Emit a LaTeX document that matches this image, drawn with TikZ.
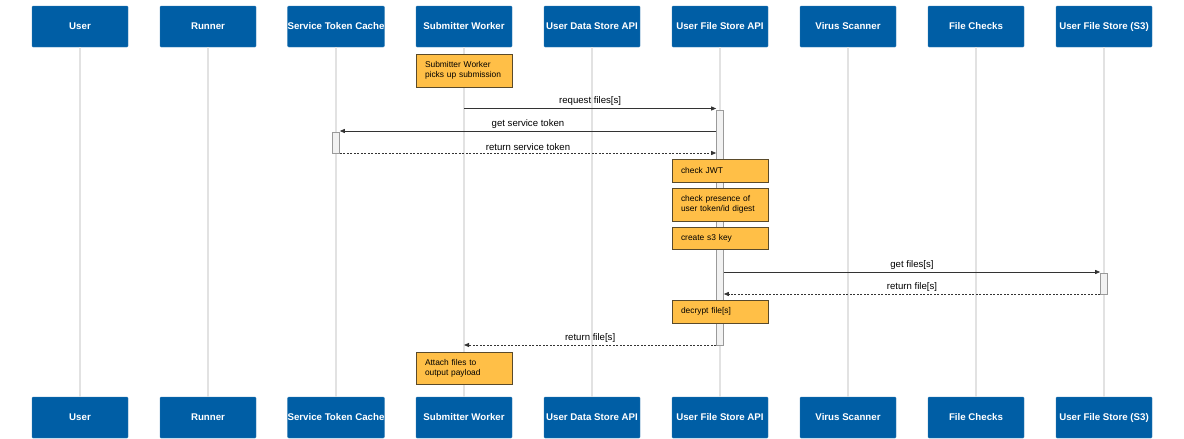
\documentclass[tikz,border=0pt]{standalone}
\usepackage{fontspec}
\setmainfont{Liberation Sans}
\usetikzlibrary{arrows.meta}
\definecolor{actorblue}{HTML}{005EA5}
\definecolor{noteyellow}{HTML}{FFBF47}
\definecolor{noteedge}{HTML}{5A4A2A}
\definecolor{lifegray}{HTML}{E2E2E2}
\definecolor{msggray}{HTML}{333333}
\definecolor{actfill}{HTML}{F2F2F2}
\definecolor{actedge}{HTML}{9A9A9A}
\tikzset{
  actor/.style={rectangle, rounded corners=1pt, fill=actorblue, draw=actorblue!80!white,
    minimum width=96pt, minimum height=41pt, inner sep=0pt, text=white,
    font=\fontsize{9.7}{11}\selectfont\bfseries},
  lifeline/.style={draw=lifegray, line width=1.5pt},
  notebox/.style={rectangle, fill=noteyellow, draw=noteedge, line width=0.6pt,
    minimum width=96pt, text width=78pt, inner xsep=9pt, inner ysep=0pt, align=left,
    font=\fontsize{8.4}{10.2}\selectfont,
    execute at begin node={\hyphenpenalty=10000\relax}},
  actbox/.style={rectangle, fill=actfill, draw=actedge, line width=0.6pt,
    minimum width=7pt, inner sep=0pt},
  msg/.style={draw=msggray, line width=0.8pt, -{Triangle[length=5pt,width=4pt]}},
  reply/.style={msg, dash pattern=on 2pt off 1.5pt},
  msglabel/.style={font=\fontsize{9.6}{11}\selectfont, text=black, inner sep=0pt}
}
\begin{document}
\begin{tikzpicture}[x=1pt,y=-1pt]
\useasboundingbox[fill=white] (0,0) rectangle (1184,439);

% participants: headers and footers
\foreach \id/\lbl [count=\i from 0] in {us/User, ru/Runner, st/Service Token Cache,
    sw/Submitter Worker, ud/User Data Store API, uf/User File Store API,
    vs/Virus Scanner, fc/File Checks, s3/User File Store (S3)} {
  \node[actor] (h\id) at (80+128*\i,26.5) {\lbl};
  \node[actor] (f\id) at (80+128*\i,417.5) {\lbl};
}

% lifelines
\begin{scope}[on background layer/.try]
\foreach \id in {us,ru,st,sw,ud,uf,vs,fc,s3}
  \draw[lifeline] (h\id.south) -- (f\id.north);
\end{scope}

% activation bars
\node[actbox, minimum height=235pt] (auf) at (720,227.5) {};
\node[actbox, minimum height=21pt] (ast) at (336,142.5) {};
\node[actbox, minimum height=21pt] (as3) at (1104,283.5) {};

% notes
\node[notebox, minimum height=33pt] (n1) at (464,70.5) {Submitter Worker\\picks up submission};
\node[notebox, minimum height=23pt] (n2) at (720,170.5) {check JWT};
\node[notebox, minimum height=33pt] (n3) at (720,204.5) {check presence of\\user token/id digest};
\node[notebox, minimum height=22pt] (n4) at (720,238) {create s3 key};
\node[notebox, minimum height=23pt] (n5) at (720,311.5) {decrypt file[s]};
\node[notebox, minimum height=32pt] (n6) at (464,368) {Attach files to\\output payload};

% message end points
\coordinate (m1a) at (464,108.5);
\coordinate (m2a) at (auf.west |- 0,131);
\coordinate (m3a) at (ast.east |- 0,153);
\coordinate (m4a) at (auf.east |- 0,272);
\coordinate (m5a) at (as3.west |- 0,294);
\coordinate (m6a) at (auf.west |- 0,345);
\coordinate (m6b) at (464,345);

% messages
\draw[msg] (m1a) -- node[msglabel, above=2.5pt] {request files[s]} (auf.west |- m1a);
\draw[msg] (m2a) -- node[msglabel, above=2.5pt] {get service token} (ast.east |- m2a);
\draw[reply] (m3a) -- node[msglabel, above=2.5pt] {return service token} (auf.west |- m3a);
\draw[msg] (m4a) -- node[msglabel, above=2.5pt] {get files[s]} (as3.west |- m4a);
\draw[reply] (m5a) -- node[msglabel, above=2.5pt] {return file[s]} (auf.east |- m5a);
\draw[reply] (m6a) -- node[msglabel, above=2.5pt] {return file[s]} (m6b);
\end{tikzpicture}
\end{document}
